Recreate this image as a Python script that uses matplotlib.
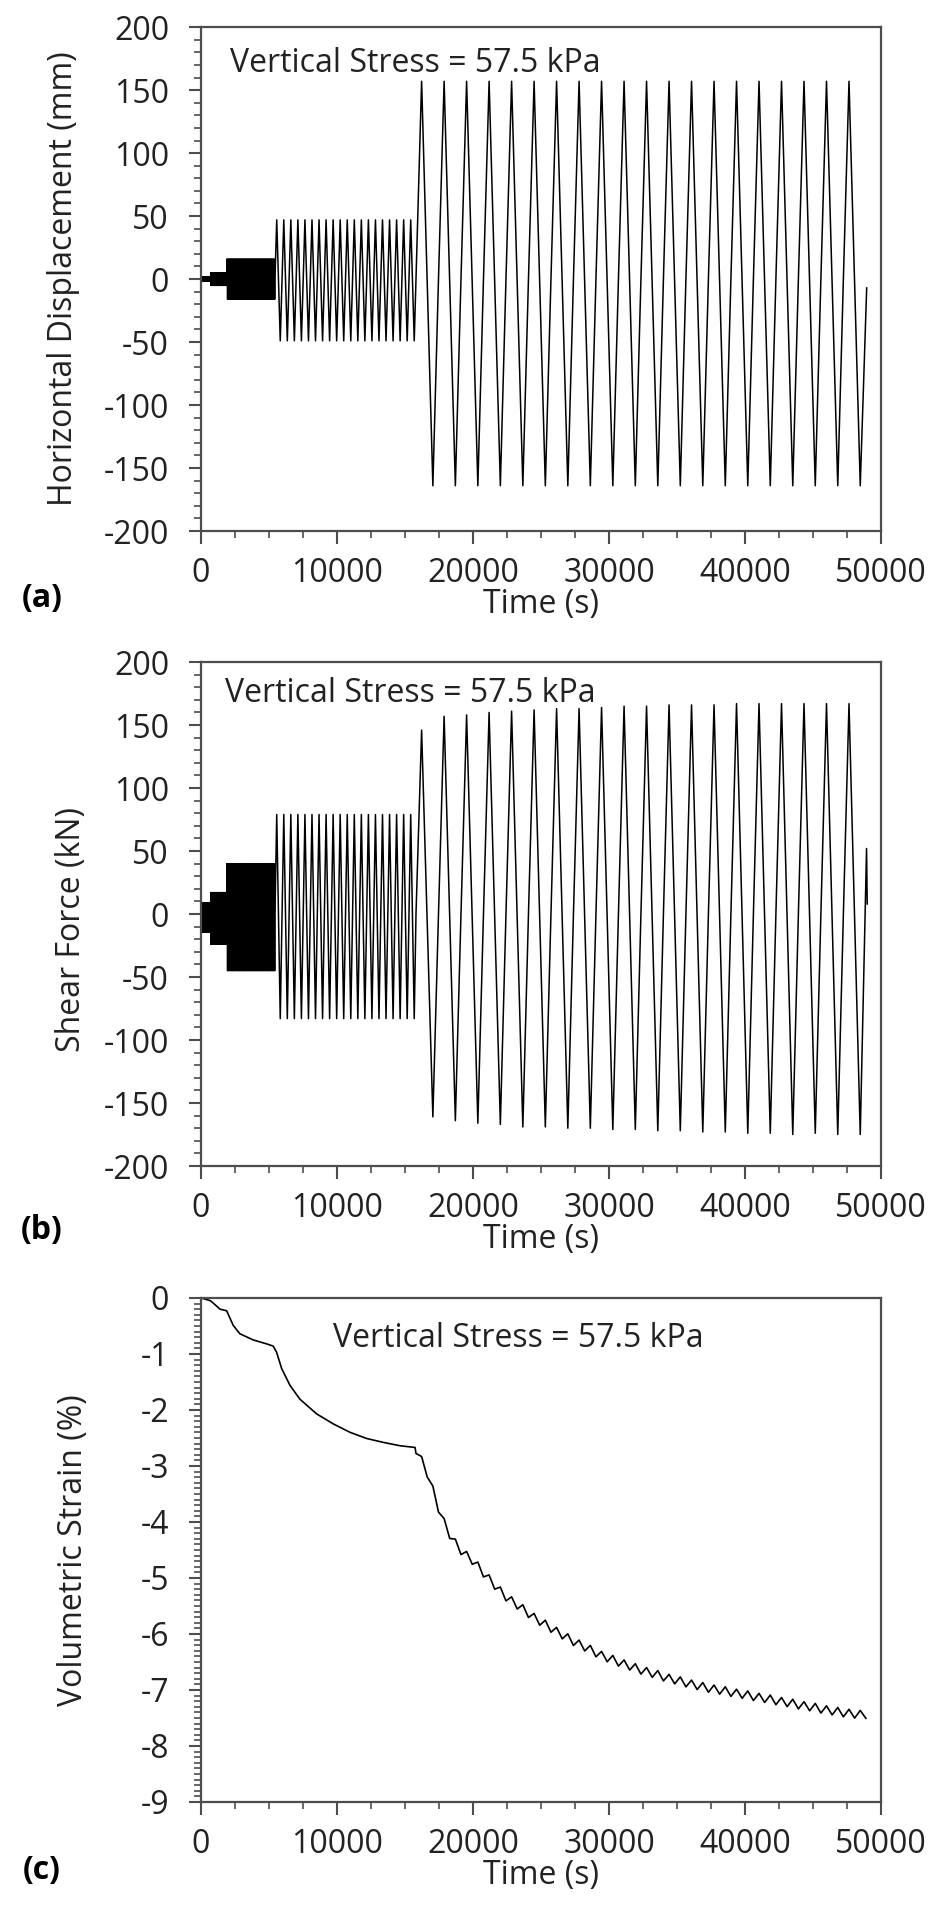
import numpy as np
import matplotlib
matplotlib.use("Agg")
import matplotlib.pyplot as plt
from matplotlib.ticker import MultipleLocator

plt.rcParams['font.family'] = ['Open Sans', 'DejaVu Sans']
plt.rcParams['axes.unicode_minus'] = False

## data

# loading stages: start / end time (s) and number of cycles
stage_start = [0, 710, 1890, 5440]
stage_end = [710, 1890, 5440, 15810]
stage_cycles = [40, 40, 40, 20]

# horizontal displacement amplitudes of the small stages (mm)
disp_pos = [1.5, 5, 16, 47]
disp_neg = [-1.5, -5, -16, -49]

# shear force amplitudes of the small stages (kN)
force_pos = [9, 17, 40, 79]
force_neg = [-14, -24, -45, -83]

# large stage: 20 cycles, 15810 s to 48890 s
big_start = 15810
big_end = 48890
big_disp_pos = [157, 157, 157, 157, 157, 157, 157, 157, 157, 157,
                157, 157, 157, 157, 157, 157, 157, 157, 157, 157]
big_disp_neg = [-164, -164, -164, -164, -164, -164, -164, -164, -164, -164,
                -164, -164, -164, -164, -164, -164, -164, -164, -164, -164]
big_force_pos = [146, 157, 158, 160, 161, 162, 163, 163, 164, 165,
                 165, 166, 166, 166, 167, 167, 167, 167, 167, 167]
big_force_neg = [-161, -164, -166, -167, -169, -169, -170, -170, -171, -171,
                 -172, -172, -173, -173, -174, -174, -175, -174, -175, -175]

# end of the test
end_t_disp = [48950]
end_disp = [-7]
end_t_force = [48940, 48990]
end_force = [52, 8]

# volumetric strain trend (%)
vs_time = [0, 700, 1400, 1890, 2370, 2860, 3840, 4820, 5310, 5560, 5930, 6540,
           7280, 8500, 9730, 10960, 12180, 13410, 14640, 15740, 16100, 16600,
           17080, 17570, 18060, 18550, 19290, 19780, 22230, 24680, 27130,
           29580, 32040, 34490, 36940, 39390, 41840, 44290, 46740, 48950]
vs_strain = [0, -0.05, -0.2, -0.23, -0.49, -0.64, -0.75, -0.82, -0.86, -0.97,
             -1.26, -1.56, -1.81, -2.07, -2.25, -2.40, -2.51, -2.58, -2.64,
             -2.67, -2.84, -3.10, -3.46, -3.83, -4.12, -4.34, -4.56, -4.64,
             -5.30, -5.74, -6.10, -6.40, -6.62, -6.80, -6.95, -7.06, -7.17,
             -7.28, -7.39, -7.46]
wiggle_amp = 0.15


def cycles(t0, t1, n, pos, neg):
    # vertices of n triangular cycles 0 -> pos -> neg -> 0
    pos = np.broadcast_to(pos, n)
    neg = np.broadcast_to(neg, n)
    p = (t1 - t0) / n
    tt, yy = [], []
    for i in range(n):
        s = t0 + i * p
        tt += [s, s + p / 4, s + 3 * p / 4]
        yy += [0, pos[i], neg[i]]
    return tt, yy


def build(pos_list, neg_list, big_pos, big_neg, end_t, end_y):
    tt, yy = [], []
    for k in range(len(stage_start)):
        a, b = cycles(stage_start[k], stage_end[k], stage_cycles[k], pos_list[k], neg_list[k])
        tt += a
        yy += b
    a, b = cycles(big_start, big_end, len(big_pos), big_pos, big_neg)
    tt += a
    yy += b
    tt += end_t
    yy += end_y
    return np.array(tt), np.array(yy)


t_disp, disp = build(disp_pos, disp_neg, big_disp_pos, big_disp_neg, end_t_disp, end_disp)
t_force, force = build(force_pos, force_neg, big_force_pos, big_force_neg, end_t_force, end_force)

# strain: trend plus a small zigzag, two per displacement cycle
quarter = (big_end - big_start) / len(big_disp_pos) / 4
t_big = big_start + quarter * np.arange(int((end_t_disp[0] - big_start) / quarter) + 1)
t_vs = np.concatenate([[t for t in vs_time if t < big_start], t_big])
trend = np.interp(t_vs, vs_time, vs_strain)
wig = np.zeros_like(trend)
mask = t_vs >= big_start
d_at = np.interp(t_vs[mask], t_disp, disp)
wig[mask] = np.abs(d_at) / 160.0 * wiggle_amp - wiggle_amp / 2
strain = trend + wig

## figure
fig = plt.figure(figsize=(9.37, 19.09), dpi=100)
W = 0.7257
H = 0.2640
axa = fig.add_axes([0.2145, 0.7218, W, H])
axb = fig.add_axes([0.2145, 0.3892, W, H])
axc = fig.add_axes([0.2145, 0.0561, W, H])

fs = 23
frame = '#4d4d4d'
txt = '#222222'

axa.plot(t_disp, disp, color='black', lw=1.1)
axb.plot(t_force, force, color='black', lw=1.1)
axc.plot(t_vs, strain, color='black', lw=1.2)

axa.set_ylim(-200, 200)
axb.set_ylim(-200, 200)
axc.set_ylim(-9, 0)
for ax in (axa, axb):
    ax.yaxis.set_major_locator(MultipleLocator(50))
    ax.yaxis.set_minor_locator(MultipleLocator(10))
axc.yaxis.set_major_locator(MultipleLocator(1))
axc.yaxis.set_minor_locator(MultipleLocator(0.1))

for ax in (axa, axb, axc):
    ax.set_xlim(0, 50000)
    ax.xaxis.set_major_locator(MultipleLocator(10000))
    ax.xaxis.set_minor_locator(MultipleLocator(2500))
    ax.tick_params(which='major', direction='out', length=9, width=1.5, color=frame,
                   labelsize=fs, labelcolor=txt, pad=10)
    ax.tick_params(which='minor', direction='out', length=5, width=1.2, color=frame)
    ax.tick_params(axis='y', which='major', pad=14)
    for s in ax.spines.values():
        s.set_color(frame)
        s.set_linewidth(1.6)
    ax.set_xlabel('Time (s)', fontsize=fs, color=txt, labelpad=-2)

axa.set_ylabel('Horizontal Displacement (mm)', fontsize=fs, color=txt)
axb.set_ylabel('Shear Force (kN)', fontsize=fs, color=txt)
axc.set_ylabel('Volumetric Strain (%)', fontsize=fs, color=txt)
axa.yaxis.set_label_coords(-0.178, 0.5)
axb.yaxis.set_label_coords(-0.166, 0.47)
axc.yaxis.set_label_coords(-0.163, 0.5)

axa.text(2130, 171, 'Vertical Stress = 57.5 kPa', fontsize=fs, color=txt, va='center')
axb.text(1765, 175, 'Vertical Stress = 57.5 kPa', fontsize=fs, color=txt, va='center')
axc.text(9700, -0.73, 'Vertical Stress = 57.5 kPa', fontsize=fs, color=txt, va='center')

fig.text(42 / 937, 1 - 599 / 1909, '(a)', fontsize=fs, fontweight='bold', ha='center', va='center')
fig.text(42 / 937, 1 - 1230 / 1909, '(b)', fontsize=fs, fontweight='bold', ha='center', va='center')
fig.text(42 / 937, 1 - 1871 / 1909, '(c)', fontsize=fs, fontweight='bold', ha='center', va='center')

fig.savefig('out.png', dpi=100, facecolor='white')
